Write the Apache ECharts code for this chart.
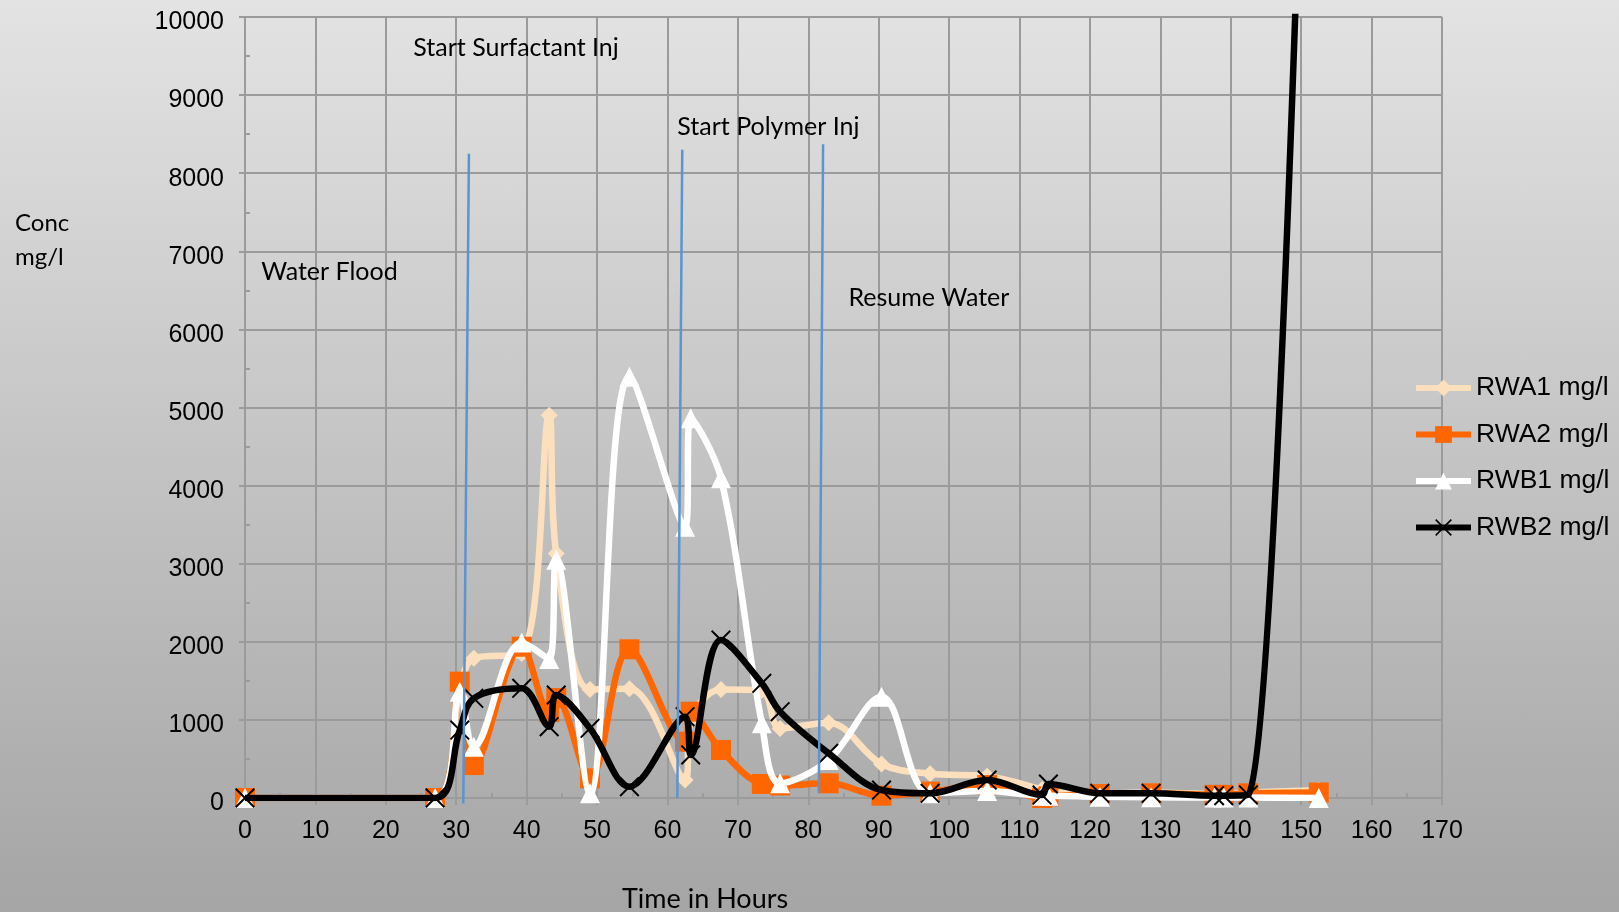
<!DOCTYPE html>
<html><head><meta charset="utf-8">
<script src="https://cdn.jsdelivr.net/npm/echarts@6/dist/echarts.min.js"></script>
<style>
html,body{margin:0;padding:0;width:1619px;height:912px;overflow:hidden;background:linear-gradient(to bottom,#e3e3e3 0%,#a5a5a5 100%);}
#c{width:1619px;height:912px;}
</style>
</head><body><div id="c"></div>
<script>
// ---- data ----
const timeHours = [0, 27, 30.5, 32.5, 39.3, 43.2, 44.2, 49, 54.6, 62.5, 63.3, 67.6, 73.4, 76, 82.9, 90.4, 97.3, 105.4, 113.2, 114.1, 121.4, 128.7, 137.7, 139, 142.5, 152.5];
const rwa1 = [0, 0, 1400, 1790, 1850, 4900, 3130, 1390, 1400, 230, 1000, 1390, 1380, 890, 965, 435, 310, 280, 110, 80, 60, 70, 50, 50, 70, 100];
const rwa2 = [0, 0, 1490, 422, 1937, 1100, 1280, 252, 1904, 721, 1105, 615, 179, 160, 188, 30, 81, 166, 0, 20, 50, 60, 40, 40, 60, 70];
const rwb1 = [0, 0, 1361, 657, 1990, 1780, 3050, 60, 5395, 3474, 4862, 4093, 956, 188, 487, 1297, 60, 90, 30, 30, 15, 10, 5, 5, 5, 0];
const rwb2 = [0, 0, 870, 1276, 1404, 913, 1319, 892, 145, 1041, 551, 2023, 1468, 1105, 572, 102, 60, 230, 38, 179, 60, 60, 30, 30, 40, 20000];
const seriesNames = ['RWA1 mg/l', 'RWA2 mg/l', 'RWB1 mg/l', 'RWB2 mg/l'];
const yTickLabels = ['0', '1000', '2000', '3000', '4000', '5000', '6000', '7000', '8000', '9000', '10000'];
// phase marker lines: [xTop, yTop, xBottom, yBottom]
const phaseLines = [[31.8, 8250, 31.0, -70], [62.1, 8300, 61.4, 0], [82.1, 8370, 81.5, 60]];
// phase annotations (data coords, left-anchored)
const annotTexts = ['Water Flood', 'Start Surfactant Inj', 'Start Polymer Inj', 'Resume Water'];
const annotX = [2.3, 23.9, 61.4, 85.7];
const annotY = [6760, 9620, 8617, 6419];

const pairs = arr => arr.map((v, i) => [timeHours[i], v]);
const crossPath = 'path://M0,0.7L0.7,0L10,9.3L9.3,10Z M9.3,0L10,0.7L0.7,10L0,9.3Z';
const gridCol = '#9b9b9b';
const styles = [
  {color: '#fce0be', symbol: 'diamond', size: 17},
  {color: '#ff6600', symbol: 'rect', size: 20},
  {color: '#ffffff', symbol: 'triangle', size: 20},
  {color: '#000000', symbol: crossPath, size: 20}
];
const vals = [rwa1, rwa2, rwb1, rwb2];

const chart = echarts.init(document.getElementById('c'), null, {renderer: 'canvas'});
const series = vals.map((arr, i) => ({
  name: seriesNames[i], type: 'line', xAxisIndex: 0, yAxisIndex: 0,
  data: pairs(arr), smooth: 0.35,
  symbol: styles[i].symbol, symbolSize: styles[i].size, showSymbol: true,
  lineStyle: {color: styles[i].color, width: 6.5},
  itemStyle: {color: styles[i].color, borderWidth: 0},
  z: 3 + i
}));
phaseLines.forEach((p, i) => series.push({
  type: 'line', xAxisIndex: 0, yAxisIndex: 0, clip: false,
  data: [[p[0], p[1]], [p[2], p[3]]], symbol: 'none',
  lineStyle: {color: '#5d93cf', width: 2.5}, z: 10, silent: true
}));

const axisText = {color: '#000', fontFamily: 'Liberation Sans', fontSize: 25};
chart.setOption({
  animation: false,
  backgroundColor: 'transparent',
  grid: [
    {left: 245, right: 177, top: 17, bottom: 114},
    {left: 245, right: 177, top: 17, bottom: 114}
  ],
  xAxis: [
    {type: 'value', gridIndex: 0, min: 0, max: 170, interval: 10,
     axisLine: {show: true, lineStyle: {color: gridCol, width: 2}},
     axisTick: {show: true, inside: false, length: 7, lineStyle: {color: gridCol, width: 2}},
     axisLabel: Object.assign({margin: 21}, axisText),
     splitLine: {show: true, lineStyle: {color: gridCol, width: 2}}},
    {type: 'value', gridIndex: 1, min: 0, max: 170, interval: 5,
     axisLine: {show: false},
     axisTick: {show: true, inside: true, length: 5, lineStyle: {color: gridCol, width: 2}},
     axisLabel: {show: false}, splitLine: {show: false}}
  ],
  yAxis: [
    {type: 'value', gridIndex: 0, min: 0, max: 10000, interval: 1000,
     axisLine: {show: true, lineStyle: {color: gridCol, width: 2}},
     axisTick: {show: true, inside: false, length: 6, lineStyle: {color: gridCol, width: 2}},
     axisLabel: Object.assign({margin: 21, verticalAlign: 'top', lineHeight: 11,
       formatter: (v) => yTickLabels[Math.round(v / 1000)]}, axisText),
     splitLine: {show: true, lineStyle: {color: gridCol, width: 2}}},
    {type: 'value', gridIndex: 1, min: 0, max: 10000, interval: 500,
     axisLine: {show: false},
     axisTick: {show: true, inside: true, length: 5, lineStyle: {color: gridCol, width: 2}},
     axisLabel: {show: false}, splitLine: {show: false}}
  ],
  legend: {
    data: seriesNames, orient: 'vertical', left: 1413, top: 373, padding: 0,
    itemWidth: 55, itemHeight: 21, itemGap: 16.5,
    lineStyle: {width: 6},
    textStyle: {color: '#000', fontFamily: 'Liberation Sans', fontSize: 26.5, lineHeight: 30}
  },
  series: series
});

const graphics = annotTexts.map((t, i) => {
  const p = chart.convertToPixel({gridIndex: 0}, [annotX[i], annotY[i]]);
  return {type: 'text', left: p[0], top: p[1] - 11, z: 20,
          style: {text: t, font: '25px Lato', fill: '#000'}};
});
graphics.push({type: 'text', left: 15, top: 206, z: 20,
  style: {text: 'Conc\nmg/l', font: '24px Lato', lineHeight: 34, fill: '#000'}});
graphics.push({type: 'text', left: 622, top: 886, z: 20,
  style: {text: 'Time in Hours', font: '27px Lato', fill: '#000'}});
chart.setOption({graphic: graphics});
</script>
</body></html>
